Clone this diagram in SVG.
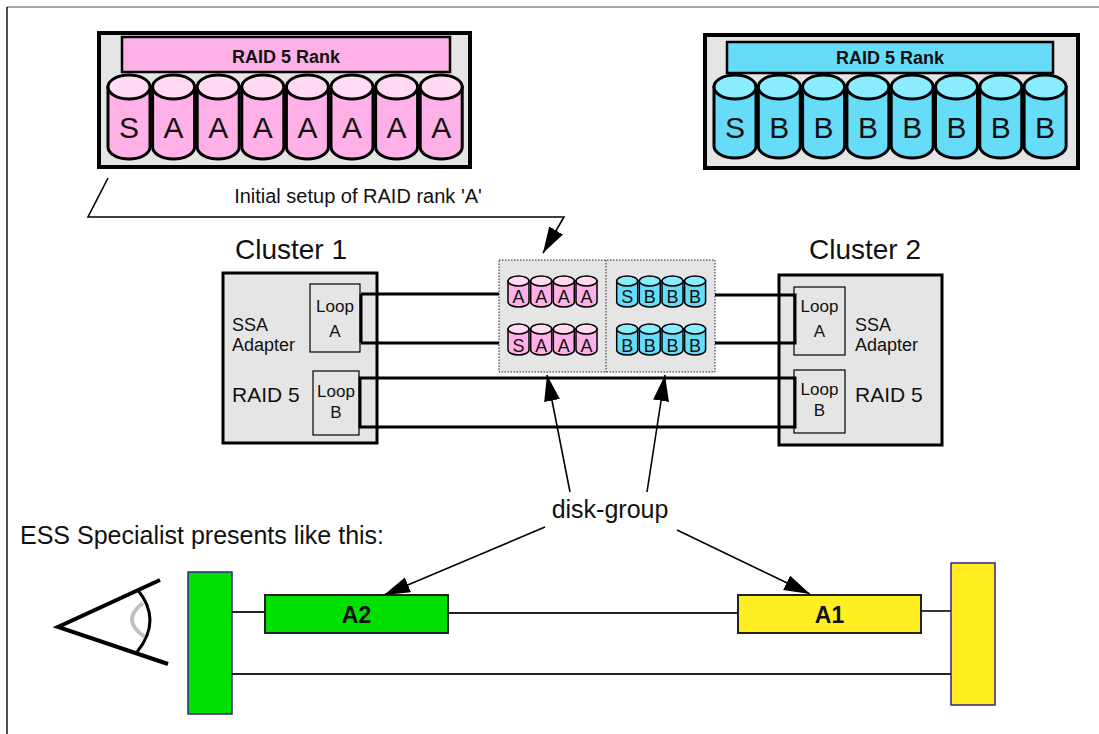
<svg xmlns="http://www.w3.org/2000/svg" xmlns:xlink="http://www.w3.org/1999/xlink" width="1099" height="734" viewBox="0 0 1099 734">
  <style>
    text { font-family: "Liberation Sans", Arial, sans-serif; fill: #111; }
    .rank { fill: #e5e5e5; stroke: #000; stroke-width: 4; }
    .bar { stroke: #000; stroke-width: 2.5; }
    .title { font-size: 18px; font-weight: bold; text-anchor: middle; }
    .big { font-size: 30px; text-anchor: middle; }
    .small { font-size: 18px; text-anchor: middle; }
    .cluster { fill: #e5e5e5; stroke: #000; stroke-width: 3; }
    .loop { fill: #e5e5e5; stroke: #000; stroke-width: 1.2; }
    .ltxt { font-size: 17px; text-anchor: middle; }
    .ctxt { font-size: 18px; }
    .raid { font-size: 21px; }
    .head { font-size: 28px; text-anchor: middle; }
    .wire { fill: none; stroke: #000; stroke-width: 3; }
    .thin { fill: none; stroke: #222; stroke-width: 1.8; }
    .arrow { fill: none; stroke: #000; stroke-width: 1.6; marker-end: url(#ah); }
    .vol { stroke: #222; stroke-width: 2; }
    .side { stroke: #3c1e8c; stroke-width: 1.5; }
    .vtxt { font-size: 23px; font-weight: bold; text-anchor: middle; }
  </style>
  <defs>
    <marker id="ah" markerUnits="userSpaceOnUse" markerWidth="28" markerHeight="18" refX="26" refY="8" orient="auto">
      <path d="M0,0 L26,8 L0,16 Z" fill="#000"/>
    </marker>
    <!-- large drums -->
    <g id="bigPink">
      <path d="M0,12 L0,72 A21,12 0 0 0 42,72 L42,12 Z" fill="#ffb0e6" stroke="#000" stroke-width="3"/>
      <ellipse cx="21" cy="12" rx="21" ry="12" fill="#ffdaf2" stroke="#000" stroke-width="3"/>
    </g>
    <g id="bigCyan">
      <path d="M0,12 L0,71 A21,12 0 0 0 42,71 L42,12 Z" fill="#66dcf8" stroke="#000" stroke-width="3"/>
      <ellipse cx="21" cy="12" rx="21" ry="12" fill="#8cecff" stroke="#000" stroke-width="3"/>
    </g>
    <!-- small drums -->
    <g id="smPink">
      <path d="M0,5 L0,26 A10.5,5 0 0 0 21,26 L21,5 Z" fill="#ffb0e6" stroke="#000" stroke-width="1.5"/>
      <ellipse cx="10.5" cy="5" rx="10.5" ry="5" fill="#ffdaf2" stroke="#000" stroke-width="1.5"/>
    </g>
    <g id="smCyan">
      <path d="M0,5 L0,26 A10.5,5 0 0 0 21,26 L21,5 Z" fill="#66dcf8" stroke="#000" stroke-width="1.5"/>
      <ellipse cx="10.5" cy="5" rx="10.5" ry="5" fill="#8cecff" stroke="#000" stroke-width="1.5"/>
    </g>
  </defs>

  <rect width="1099" height="734" fill="#fff"/>
  <!-- page frame -->
  <line x1="7" y1="7" x2="1099" y2="7" stroke="#888" stroke-width="1.5"/>
  <line x1="7" y1="7" x2="7" y2="734" stroke="#111" stroke-width="1.5"/>

  <!-- RAID rank A -->
  <g id="rankA">
    <rect class="rank" x="99" y="33" width="371" height="134"/>
    <rect class="bar" x="122" y="37" width="328" height="35" fill="#ffb0e6"/>
    <text class="title" x="286" y="63">RAID 5 Rank</text>
    <use xlink:href="#bigPink" x="108" y="75"/>
    <use xlink:href="#bigPink" x="152.6" y="75"/>
    <use xlink:href="#bigPink" x="197.2" y="75"/>
    <use xlink:href="#bigPink" x="241.8" y="75"/>
    <use xlink:href="#bigPink" x="286.4" y="75"/>
    <use xlink:href="#bigPink" x="331" y="75"/>
    <use xlink:href="#bigPink" x="375.6" y="75"/>
    <use xlink:href="#bigPink" x="420.2" y="75"/>
    <g class="big">
      <text x="129" y="138">S</text>
      <text x="173.6" y="138">A</text>
      <text x="218.2" y="138">A</text>
      <text x="262.8" y="138">A</text>
      <text x="307.4" y="138">A</text>
      <text x="352" y="138">A</text>
      <text x="396.6" y="138">A</text>
      <text x="441.2" y="138">A</text>
    </g>
  </g>

  <!-- RAID rank B -->
  <g id="rankB">
    <rect class="rank" x="705" y="35" width="373" height="133"/>
    <rect class="bar" x="727" y="42" width="326" height="31" fill="#66dcf8"/>
    <text class="title" x="890" y="64">RAID 5 Rank</text>
    <use xlink:href="#bigCyan" x="714" y="75"/>
    <use xlink:href="#bigCyan" x="758.3" y="75"/>
    <use xlink:href="#bigCyan" x="802.6" y="75"/>
    <use xlink:href="#bigCyan" x="846.9" y="75"/>
    <use xlink:href="#bigCyan" x="891.2" y="75"/>
    <use xlink:href="#bigCyan" x="935.5" y="75"/>
    <use xlink:href="#bigCyan" x="979.8" y="75"/>
    <use xlink:href="#bigCyan" x="1024.1" y="75"/>
    <g class="big">
      <text x="735" y="138">S</text>
      <text x="779.3" y="138">B</text>
      <text x="823.6" y="138">B</text>
      <text x="867.9" y="138">B</text>
      <text x="912.2" y="138">B</text>
      <text x="956.5" y="138">B</text>
      <text x="1000.8" y="138">B</text>
      <text x="1045.1" y="138">B</text>
    </g>
  </g>

  <!-- shared disk drawer -->
  <g id="drawer">
    <rect x="499" y="260" width="216" height="112" fill="#e5e5e5" stroke="#222" stroke-width="1" stroke-dasharray="1.5,1.5"/>
    <line x1="606" y1="260" x2="606" y2="372" stroke="#222" stroke-width="1" stroke-dasharray="1.5,1.5"/>
    <use xlink:href="#smPink" x="508" y="276"/>
    <use xlink:href="#smPink" x="530.7" y="276"/>
    <use xlink:href="#smPink" x="553.3" y="276"/>
    <use xlink:href="#smPink" x="576" y="276"/>
    <use xlink:href="#smPink" x="508" y="324"/>
    <use xlink:href="#smPink" x="530.7" y="324"/>
    <use xlink:href="#smPink" x="553.3" y="324"/>
    <use xlink:href="#smPink" x="576" y="324"/>
    <use xlink:href="#smCyan" x="616.7" y="276"/>
    <use xlink:href="#smCyan" x="639.3" y="276"/>
    <use xlink:href="#smCyan" x="662" y="276"/>
    <use xlink:href="#smCyan" x="684.6" y="276"/>
    <use xlink:href="#smCyan" x="616.7" y="324"/>
    <use xlink:href="#smCyan" x="639.3" y="324"/>
    <use xlink:href="#smCyan" x="662" y="324"/>
    <use xlink:href="#smCyan" x="684.6" y="324"/>
    <g class="small">
      <text x="518.5" y="303">A</text>
      <text x="541.2" y="303">A</text>
      <text x="563.8" y="303">A</text>
      <text x="586.5" y="303">A</text>
      <text x="518.5" y="352">S</text>
      <text x="541.2" y="352">A</text>
      <text x="563.8" y="352">A</text>
      <text x="586.5" y="352">A</text>
      <text x="627.2" y="303">S</text>
      <text x="649.8" y="303">B</text>
      <text x="672.5" y="303">B</text>
      <text x="695.1" y="303">B</text>
      <text x="627.2" y="352">B</text>
      <text x="649.8" y="352">B</text>
      <text x="672.5" y="352">B</text>
      <text x="695.1" y="352">B</text>
    </g>
  </g>

  <!-- Cluster 1 -->
  <g id="cluster1">
    <text class="head" x="291" y="259">Cluster 1</text>
    <rect class="cluster" x="223" y="273" width="154" height="170"/>
    <rect class="loop" x="310" y="284" width="50" height="68"/>
    <rect class="loop" x="313" y="371" width="46" height="64"/>
    <text class="ltxt" x="335" y="312">Loop</text>
    <text class="ltxt" x="335" y="337">A</text>
    <text class="ltxt" x="336" y="397">Loop</text>
    <text class="ltxt" x="336" y="418">B</text>
    <text class="ctxt" x="232" y="331">SSA</text>
    <text class="ctxt" x="232" y="351">Adapter</text>
    <text class="raid" x="232" y="402">RAID 5</text>
  </g>

  <!-- Cluster 2 -->
  <g id="cluster2">
    <text class="head" x="865" y="259">Cluster 2</text>
    <rect class="cluster" x="779" y="275" width="163" height="170"/>
    <rect class="loop" x="794" y="287" width="51" height="68"/>
    <rect class="loop" x="794" y="370" width="51" height="63"/>
    <text class="ltxt" x="819.5" y="312">Loop</text>
    <text class="ltxt" x="819.5" y="337">A</text>
    <text class="ltxt" x="819.5" y="395">Loop</text>
    <text class="ltxt" x="819.5" y="416">B</text>
    <text class="ctxt" x="855" y="331">SSA</text>
    <text class="ctxt" x="855" y="351">Adapter</text>
    <text class="raid" x="855" y="402">RAID 5</text>
  </g>

  <!-- viewer -->
  <g id="viewer">
    <path d="M160,580 L58,627 L168,664" fill="none" stroke="#000" stroke-width="4" stroke-linejoin="miter"/>
    <path d="M143,603 Q120,620 145,637" fill="none" stroke="#c0c0c0" stroke-width="4"/>
    <path d="M137,589 Q163,620 137,652" fill="none" stroke="#000" stroke-width="3"/>
  </g>

  <!-- logical view -->
  <g id="sideLeft">
    <rect class="side" x="188" y="572" width="44" height="142" fill="#00e000"/>
  </g>
  <g id="volA2">
    <rect class="vol" x="265" y="595" width="183" height="38" fill="#00e000"/>
    <text class="vtxt" x="356.5" y="623">A2</text>
  </g>
  <g id="volA1">
    <rect class="vol" x="738" y="595" width="183" height="38" fill="#ffee22"/>
    <text class="vtxt" x="829.5" y="623">A1</text>
  </g>
  <g id="sideRight">
    <rect class="side" x="951" y="563" width="44" height="142" fill="#ffee22"/>
  </g>

  <!-- labels -->
  <g id="labels">
    <text x="358" y="203" font-size="20" text-anchor="middle">Initial setup of RAID rank 'A'</text>
    <text x="610" y="518" font-size="25" text-anchor="middle">disk-group</text>
    <text x="20" y="544" font-size="25">ESS Specialist presents like this:</text>
  </g>

  <!-- connectors -->
  <g id="connectors">
    <!-- loop A -->
    <path class="wire" d="M361,294 H499 M361,294 V343 M361,343 H499"/>
    <path class="wire" d="M715,295 H795 V343 H715"/>
    <!-- loop B -->
    <path class="wire" d="M360,378 H795 V427 H360 Z"/>
    <!-- callout -->
    <path class="arrow" d="M108,178 L88,217 H564 L543,253"/>
    <!-- disk-group pointers -->
    <line class="arrow" x1="570" y1="492" x2="547" y2="375"/>
    <line class="arrow" x1="647" y1="492" x2="665" y2="375"/>
    <line class="arrow" x1="545" y1="527" x2="384" y2="595"/>
    <line class="arrow" x1="677" y1="530" x2="810" y2="594"/>
    <!-- logical path -->
    <line class="thin" x1="232" y1="612" x2="265" y2="612"/>
    <line class="thin" x1="448" y1="613" x2="738" y2="613"/>
    <line class="thin" x1="921" y1="611" x2="951" y2="611"/>
    <line class="thin" x1="232" y1="674" x2="951" y2="674"/>
  </g>
</svg>
